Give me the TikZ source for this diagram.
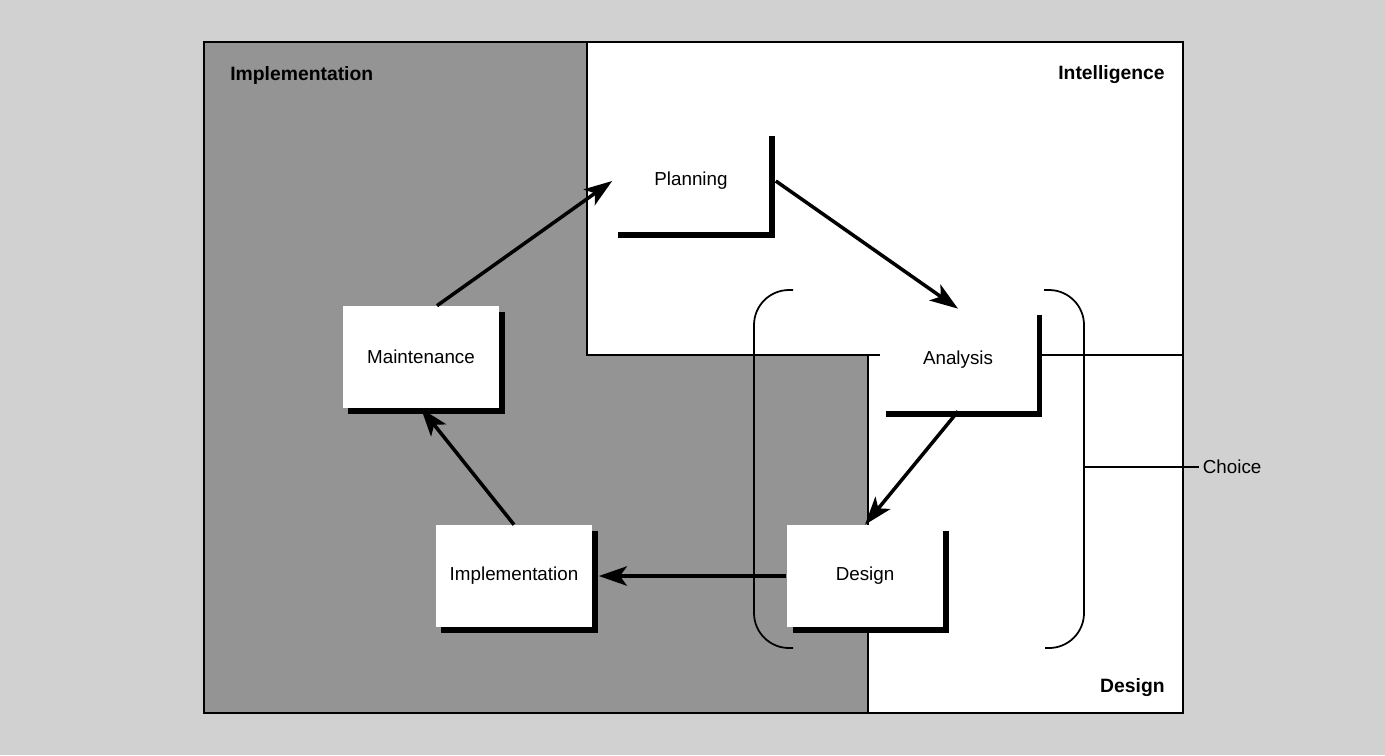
\documentclass[tikz,border=0pt]{standalone}
\usepackage{fontspec}
\setmainfont{Liberation Sans}
\usetikzlibrary{arrows.meta,shadows,calc}
\definecolor{outerbg}{gray}{0.82}
\definecolor{innerbg}{gray}{0.58}
\begin{document}
\begin{tikzpicture}[x=0.02cm,y=-0.02cm,
  proc/.style={fill=white, minimum width=3.14cm, minimum height=2.04cm, inner sep=0pt,
    font=\fontsize{10.7}{12}\selectfont,
    drop shadow={shadow xshift=3.4pt, shadow yshift=-3.4pt, fill=black, opacity=1}},
  flow/.style={line width=2pt, -{Stealth[length=16pt,width=11pt,inset=4pt]}},
  region/.style={font=\bfseries\fontsize{11}{13}\selectfont, inner sep=0pt},
  edge/.style={line width=0.9pt},
  bracket/.style={line width=1pt, rounded corners=0.7cm}]
\useasboundingbox (0,0) rectangle (1385,755);
\fill[outerbg] (0,0) rectangle (1385,755);
% regions
\fill[innerbg] (204,42) -- (587,42) -- (587,355) -- (868,355) -- (868,713) -- (204,713) -- cycle;
\fill[white] (587,42) rectangle (1183,355);
\fill[white] (868,355) rectangle (1183,713);
\draw[edge] (587,42) -- (587,355) -- (1183,355);
\draw[edge] (868,355) -- (868,713);
\draw[line width=1.2pt] (204,42) rectangle (1183,713);
% region labels
\node[region, anchor=west] (limpl) at (230,75) {Implementation};
\node[region, anchor=east] (lintel) at (1165,75) {Intelligence};
\node[region, anchor=east] (ldes) at (1165,688) {Design};
% choice brackets
\draw[bracket] (793,290) -- (754,290) -- (754,648) -- (793,648);
\draw[bracket] (1044,290) -- (1084,290) -- (1084,648) -- (1045,648);
\coordinate (br) at (1084,467);
\node[anchor=west, inner sep=2pt, font=\fontsize{10.7}{12}\selectfont] (choice) at (1199,467) {Choice};
\draw[edge] (br) -- (choice.west);
% process boxes
\node[proc] (plan) at (691,181) {Planning};
\node[proc] (maint) at (421,357) {Maintenance};
\node[proc] (anal) at (958,360) {Analysis};
\node[proc] (des) at (865,576) {Design};
\node[proc] (impl) at (514,576) {Implementation};
% arrows
\draw[flow] ([xshift=0.32cm]maint.north) -- (plan.west);
\draw[flow] ([xshift=3.4pt]plan.east) -- (anal.north);
\draw[flow] (anal.south) -- (des.north);
\draw[flow] (des.west) -- ([xshift=3.4pt]impl.east);
\draw[flow] (impl.north) -- (maint.south);
\end{tikzpicture}
\end{document}
